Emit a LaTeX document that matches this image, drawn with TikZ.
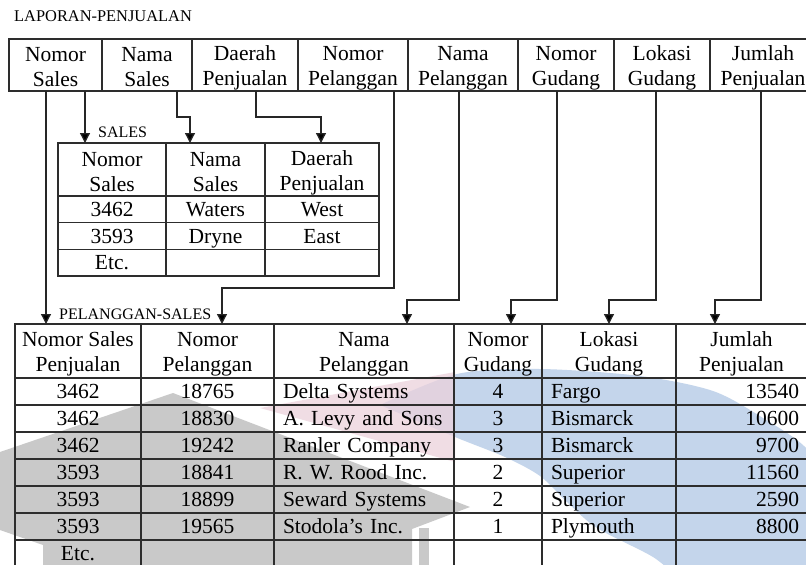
\documentclass[tikz,border=0pt]{standalone}
\usepackage{fontspec}
\setmainfont{Liberation Serif}
\usetikzlibrary{arrows.meta,calc}
\definecolor{wmgray}{RGB}{201,201,201}
\definecolor{wmblue}{RGB}{196,213,235}
\definecolor{wmpink}{RGB}{236,210,220}
\definecolor{rule}{RGB}{45,45,45}
\newcommand\tabfont{\fontsize{21.5}{25}\selectfont}
\newcommand\ttlfont{\fontsize{16}{18}\selectfont}
% struts for header lines and for data lines
\newcommand\hstrut{\rule[-3.5pt]{0pt}{25pt}}
\newcommand\dstrut{\rule[-5.5pt]{0pt}{25pt}}
% two-line header text with even line heights
\newcommand\hd[2]{\hstrut #1\\\hstrut #2}

\begin{document}
\begin{tikzpicture}[x=1pt,y=-1pt,
  cellbox/.style={draw=rule, line width=1.2pt, anchor=north west, inner sep=0pt,
    outer sep=0pt, align=center, font=\tabfont},
  hcell/.style={cellbox},
  tab/.style={cellbox, execute at begin node=\dstrut},
  lcell/.style={tab, align=left, inner xsep=9pt, text width=#1},
  rcell/.style={tab, align=right, inner xsep=8pt, text width=#1},
  conn/.style={draw=black!85, line width=1.3pt,
    -{Triangle[width=10pt,length=10pt,fill=black]}},
  ttl/.style={anchor=base west, inner sep=0pt, font=\ttlfont}]

% page
\fill[white] (0,0) rectangle (806,565);
\useasboundingbox (0,0) rectangle (806,565);

% faint logo behind the lower table
\fill[wmblue] plot[smooth] coordinates {(380,405) (457,374) (540,369) (640,376)
    (713,391) (763,418) (806,448) (830,490)}
  -- (830,580) -- (680,580)
  -- plot[smooth] coordinates {(680,580) (653,557) (597,528) (567,502)
    (540,476) (505,457) (455,437) (380,405)} -- cycle;
\fill[wmpink, opacity=0.75] (260,408) -- (455,372) -- (455,462) -- cycle;
\fill[wmgray] (173,393) -- (470,507) -- (412,529) -- (412,570) -- (43,570)
  -- (43,545) -- (0,530) -- (0,452) -- cycle;
\fill[wmgray] (419,528) rectangle (429,570);

% titles
\node[ttl, font=\fontsize{16.4}{18}\selectfont] (lap) at (14,21) {LAPORAN-PENJUALAN};
\node[ttl] (lsales) at (98,137) {SALES};
\node[ttl] (lps) at (59,319.5) {PELANGGAN-SALES};

% report header
\node[hcell, minimum width=93pt,  minimum height=52pt] (t1) at (9,39)   {\hd{Nomor}{Sales}};
\node[hcell, minimum width=90pt,  minimum height=52pt] (t2) at (102,39) {\hd{Nama}{Sales}};
\node[hcell, minimum width=106pt, minimum height=52pt] (t3) at (192,39) {\hd{Daerah}{Penjualan}};
\node[hcell, minimum width=110pt, minimum height=52pt] (t4) at (298,39) {\hd{Nomor}{Pelanggan}};
\node[hcell, minimum width=110pt, minimum height=52pt] (t5) at (408,39) {\hd{Nama}{Pelanggan}};
\node[hcell, minimum width=96pt,  minimum height=52pt] (t6) at (518,39) {\hd{Nomor}{Gudang}};
\node[hcell, minimum width=96pt,  minimum height=52pt] (t7) at (614,39) {\hd{Lokasi}{Gudang}};
\node[hcell, minimum width=106pt, minimum height=52pt] (t8) at (710,39) {\hd{Jumlah}{Penjualan}};

% SALES table
\node[hcell, minimum width=108pt, minimum height=53pt] (s1) at (58,143)  {\hd{Nomor}{Sales}};
\node[hcell, minimum width=99pt,  minimum height=53pt] (s2) at (166,143) {\hd{Nama}{Sales}};
\node[hcell, minimum width=114pt, minimum height=53pt] (s3) at (265,143) {\hd{Daerah}{Penjualan}};
\foreach \n/\ra/\rb/\rc in {1/3462/Waters/West, 2/3593/Dryne/East, 3/Etc./{}/{}}{
  \pgfmathsetmacro\yy{196+26.67*(\n-1)}
  \node[tab, minimum width=108pt, minimum height=26.67pt] (s\n-a) at (58,\yy)  {\ra};
  \node[tab, minimum width=99pt,  minimum height=26.67pt] (s\n-b) at (166,\yy) {\rb};
  \node[tab, minimum width=114pt, minimum height=26.67pt] (s\n-c) at (265,\yy) {\rc};
}

% PELANGGAN-SALES table
\node[hcell, minimum width=126pt, minimum height=54pt] (p1) at (15,324)  {\hd{Nomor Sales}{Penjualan}};
\node[hcell, minimum width=133pt, minimum height=54pt] (p2) at (141,324) {\hd{Nomor}{Pelanggan}};
\node[hcell, minimum width=180pt, minimum height=54pt] (p3) at (274,324) {\hd{Nama}{Pelanggan}};
\node[hcell, minimum width=88pt,  minimum height=54pt] (p4) at (454,324) {\hd{Nomor}{Gudang}};
\node[hcell, minimum width=134pt, minimum height=54pt] (p5) at (542,324) {\hd{Lokasi}{Gudang}};
\node[hcell, minimum width=131pt, minimum height=54pt] (p6) at (676,324) {\hd{Jumlah}{Penjualan}};
\foreach \n/\ra/\rb/\rc/\rd/\re/\rf in {
    1/3462/18765/Delta Systems/4/Fargo/13540,
    2/3462/18830/A. Levy and Sons/3/Bismarck/10600,
    3/3462/19242/Ranler Company/3/Bismarck/9700,
    4/3593/18841/R. W. Rood Inc./2/Superior/11560,
    5/3593/18899/Seward Systems/2/Superior/2590,
    6/3593/19565/Stodola's Inc./1/Plymouth/8800,
    7/Etc./{}/{}/{}/{}/{}}{
  \pgfmathsetmacro\yy{378+27*(\n-1)}
  \node[tab, minimum width=126pt, minimum height=27pt] (d\n-a) at (15,\yy)  {\ra};
  \node[tab, minimum width=133pt, minimum height=27pt] (d\n-b) at (141,\yy) {\rb};
  \node[lcell=162pt, minimum height=27pt] (d\n-c) at (274,\yy) {\rc};
  \node[tab, minimum width=88pt, minimum height=27pt] (d\n-d) at (454,\yy) {\rd};
  \node[lcell=116pt, minimum height=27pt] (d\n-e) at (542,\yy) {\re};
  \node[rcell=115pt, minimum height=27pt] (d\n-f) at (676,\yy) {\rf};
}

% connectors from the report columns
\draw[conn] ([xshift=-9.5pt]t1.south) -- ([xshift=-32pt]p1.north);
\draw[conn] ([xshift=29.5pt]t1.south) -- ([xshift=-27pt]s1.north);
\draw[conn] ([xshift=30pt]t2.south) -- ++(0,26) -| ([xshift=-25.5pt]s2.north);
\draw[conn] ([xshift=11pt]t3.south) -- ++(0,26) -| ([xshift=-1pt]s3.north);
\draw[conn] ([xshift=41pt]t4.south) -- ++(0,197) -| ([xshift=14.5pt]p2.north);
\draw[conn] ([xshift=-4pt]t5.south) -- ++(0,209) -| ([xshift=43pt]p3.north);
\draw[conn] ([xshift=-9pt]t6.south) -- ++(0,209) -| ([xshift=13pt]p4.north);
\draw[conn] ([xshift=-6pt]t7.south) -- ++(0,209) -| (p5.north);
\draw[conn] ([xshift=-2pt]t8.south) -- ++(0,209) -| ([xshift=-26.5pt]p6.north);
\end{tikzpicture}
\end{document}
